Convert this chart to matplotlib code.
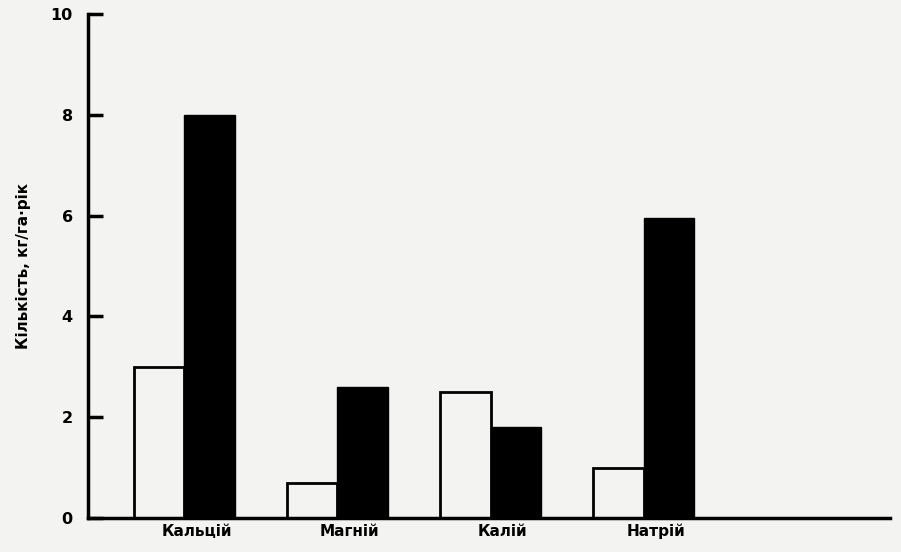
import numpy as np
import matplotlib.pyplot as plt

plt.rcParams['font.family'] = ['DejaVu Sans']

# дані
categories = ['Кальцій', 'Магній', 'Калій', 'Натрій']
white_vals = [3.0, 0.7, 2.5, 1.0]
black_vals = [8.0, 2.6, 1.8, 5.95]
y_ticks = [0, 2, 4, 6, 8, 10]

fig = plt.figure(figsize=(9.01, 5.52), dpi=100)
fig.patch.set_facecolor('#f3f3f1')
ax = fig.add_axes([88 / 901, 34 / 552, 802 / 901, 504 / 552])
ax.set_facecolor('none')

x = np.arange(len(categories))
w = 0.33
ax.bar(x - w / 2, white_vals, width=w, color='none', edgecolor='black', linewidth=2)
ax.bar(x + w / 2, black_vals, width=w, color='black', edgecolor='black', linewidth=1)

ax.set_xlim(-0.63, 4.61)
ax.set_ylim(0, 10)
ax.set_xticks(x + 0.08)
ax.set_xticklabels(categories, fontsize=11, fontweight='bold')
ax.tick_params(axis='x', length=0, pad=4)
ax.set_yticks(y_ticks)
ax.set_yticklabels([str(t) for t in y_ticks], fontsize=11.5, fontweight='bold')
ax.tick_params(axis='y', direction='in', length=11, width=2.5, pad=11)

for s in ['top', 'right']:
    ax.spines[s].set_visible(False)
ax.spines['left'].set_linewidth(2.5)
ax.spines['bottom'].set_linewidth(2.5)

ax.set_ylabel('Кількість, кг/га·рік', fontsize=11, fontweight='bold', labelpad=14)

fig.savefig('out.png', dpi=100, facecolor=fig.get_facecolor())
